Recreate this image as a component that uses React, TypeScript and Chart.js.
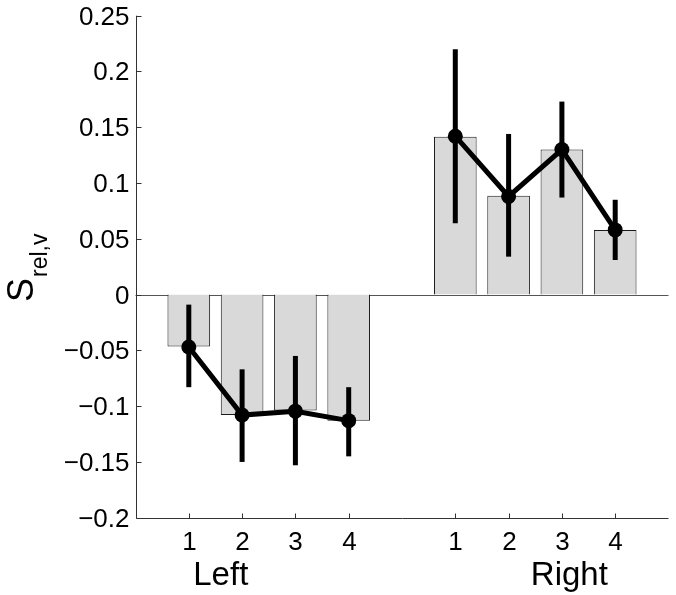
import React, { useEffect, useRef } from "react";
import { Chart, registerables } from "chart.js";

Chart.register(...registerables);

// ---- data ----
const tickLabels = ["1", "2", "3", "4", "1", "2", "3", "4"];
const positions = [1, 2, 3, 4, 6, 7, 8, 9];
const groupNames = ["Left", "Right"];
const groupLabelPositions = [1.6, 8.14];
const barValues = [-0.0465, -0.108, -0.104, -0.113, 0.1415, 0.0885, 0.13, 0.058];
const meanValues = [-0.047, -0.108, -0.1045, -0.113, 0.142, 0.088, 0.13, 0.058];
const errLow = [-0.083, -0.15, -0.153, -0.145, 0.064, 0.034, 0.087, 0.031];
const errHigh = [-0.009, -0.067, -0.055, -0.083, 0.22, 0.144, 0.173, 0.085];
const yTickValues = [-0.2, -0.15, -0.1, -0.05, 0, 0.05, 0.1, 0.15, 0.2, 0.25];
const yTickText = ["−0.2", "−0.15", "−0.1", "−0.05", "0", "0.05", "0.1", "0.15", "0.2", "0.25"];

const FONT = "'Liberation Sans', Arial, Helvetica, sans-serif";

const axesPlugin = {
  id: "matlabAxes",
  beforeDatasetsDraw(chart: any) {
    const { ctx, chartArea, scales } = chart;
    const y0 = scales.y.getPixelForValue(0);
    ctx.save();
    ctx.strokeStyle = "#555";
    ctx.lineWidth = 1;
    ctx.beginPath();
    ctx.moveTo(chartArea.left, Math.round(y0) + 0.5);
    ctx.lineTo(chartArea.right, Math.round(y0) + 0.5);
    ctx.stroke();
    ctx.restore();
  },
  afterDatasetsDraw(chart: any) {
    const { ctx, scales } = chart;
    const xs = scales.x;
    const ys = scales.y;
    ctx.save();
    ctx.strokeStyle = "#000";
    ctx.lineWidth = 5;
    ctx.lineCap = "butt";
    for (let i = 0; i < positions.length; i++) {
      const px = xs.getPixelForValue(positions[i]);
      ctx.beginPath();
      ctx.moveTo(px, ys.getPixelForValue(errLow[i]));
      ctx.lineTo(px, ys.getPixelForValue(errHigh[i]));
      ctx.stroke();
    }
    ctx.restore();
  },
  afterDraw(chart: any) {
    const { ctx, chartArea, scales } = chart;
    const xs = scales.x;
    const ys = scales.y;
    const L = Math.round(chartArea.left) + 0.5;
    const B = Math.round(chartArea.bottom) + 0.5;
    ctx.save();
    ctx.strokeStyle = "#333";
    ctx.lineWidth = 1;
    ctx.beginPath();
    ctx.moveTo(L, chartArea.top);
    ctx.lineTo(L, B);
    ctx.lineTo(chartArea.right, B);
    ctx.stroke();
    // y ticks (inward)
    ctx.fillStyle = "#000";
    ctx.font = `26px ${FONT}`;
    ctx.textAlign = "right";
    ctx.textBaseline = "middle";
    for (let i = 0; i < yTickValues.length; i++) {
      const py = Math.round(ys.getPixelForValue(yTickValues[i])) + 0.5;
      ctx.beginPath();
      ctx.moveTo(L, py);
      ctx.lineTo(L + 5, py);
      ctx.stroke();
      ctx.fillText(yTickText[i], L - 7, py + 1);
    }
    // x ticks
    ctx.textAlign = "center";
    ctx.textBaseline = "alphabetic";
    for (let i = 0; i < positions.length; i++) {
      const px = Math.round(xs.getPixelForValue(positions[i])) + 0.5;
      ctx.beginPath();
      ctx.moveTo(px, B);
      ctx.lineTo(px, B - 5);
      ctx.stroke();
      ctx.fillText(tickLabels[i], px, B + 31);
    }
    // group labels
    ctx.font = `33px ${FONT}`;
    for (let g = 0; g < groupNames.length; g++) {
      ctx.fillText(groupNames[g], xs.getPixelForValue(groupLabelPositions[g]), B + 66);
    }
    // y axis title S_rel,v
    ctx.translate(33, 302);
    ctx.rotate(-Math.PI / 2);
    ctx.textAlign = "left";
    ctx.font = `36px ${FONT}`;
    ctx.fillText("S", 0, 0);
    const sw = ctx.measureText("S").width;
    ctx.font = `23px ${FONT}`;
    ctx.fillText("rel,v", sw + 1, 14);
    ctx.restore();
  },
};

export default function App() {
  const ref = useRef<HTMLCanvasElement>(null);
  useEffect(() => {
    if (!ref.current) return;
    const lineData: any[] = [];
    positions.forEach((p, i) => {
      if (i === 4) lineData.push({ x: 5, y: null });
      lineData.push({ x: p, y: meanValues[i] });
    });
    const chart = new Chart(ref.current, {
      type: "bar",
      data: {
        datasets: [
          {
            type: "bar",
            data: positions.map((p, i) => ({ x: p, y: barValues[i] })),
            backgroundColor: "#d9d9d9",
            borderColor: "#1a1a1a",
            borderWidth: 1,
            barPercentage: 0.8,
            categoryPercentage: 1,
            order: 2,
          } as any,
          {
            type: "line",
            data: lineData,
            borderColor: "#000",
            backgroundColor: "#000",
            borderWidth: 5,
            pointRadius: 7.5,
            pointBorderWidth: 0,
            pointBackgroundColor: "#000",
            spanGaps: false,
            order: 1,
          } as any,
        ],
      },
      options: {
        responsive: false,
        animation: false,
        layout: { padding: { left: 135.5, right: 5.5, top: 15.7, bottom: 77.3 } },
        plugins: { legend: { display: false }, tooltip: { enabled: false } },
        scales: {
          x: { type: "linear", min: 0, max: 10, display: false, offset: false, grid: { offset: false } },
          y: { type: "linear", min: -0.2, max: 0.25, display: false },
        },
      },
      plugins: [axesPlugin],
    });
    return () => chart.destroy();
  }, []);
  return (
    <div style={{ position: "fixed", left: 0, top: 0, width: 676, height: 595, background: "#fff" }}>
      <canvas ref={ref} width={676} height={595} style={{ width: 676, height: 595 }} />
    </div>
  );
}
